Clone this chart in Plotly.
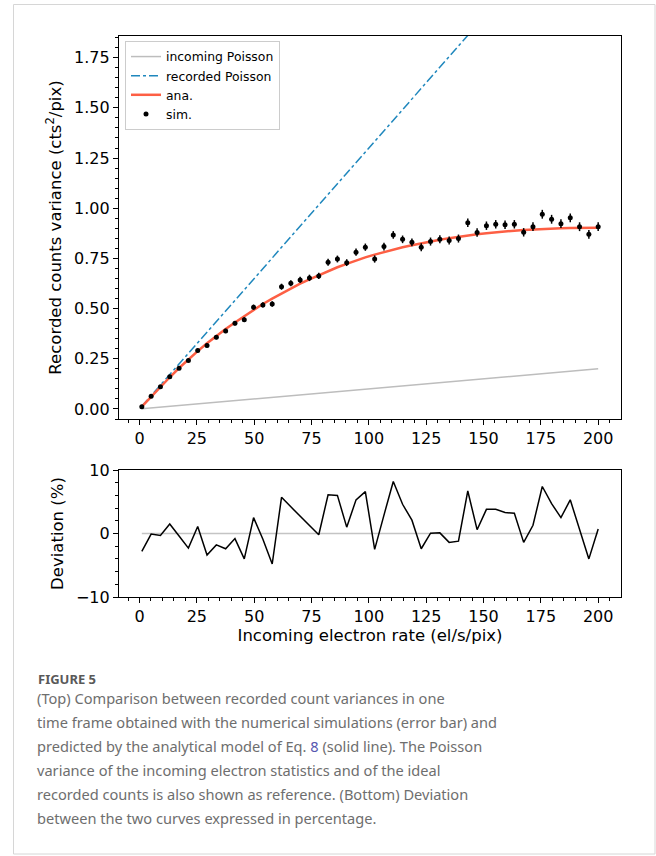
import plotly.graph_objects as go

# ---------------- data ----------------
rate = [1.0, 5.06, 9.12, 13.18, 17.24, 21.31, 25.37, 29.43, 33.49, 37.55,
        41.61, 45.67, 49.73, 53.8, 57.86, 61.92, 65.98, 70.04, 74.1, 78.16,
        82.22, 86.29, 90.35, 94.41, 98.47, 102.53, 106.59, 110.65, 114.71, 118.78,
        122.84, 126.9, 130.96, 135.02, 139.08, 143.14, 147.2, 151.27, 155.33, 159.39,
        163.45, 167.51, 171.57, 175.63, 179.69, 183.76, 187.82, 191.88, 195.94, 200.0]

sim_var = [0.011, 0.063, 0.111, 0.161, 0.203, 0.241, 0.291, 0.316, 0.357, 0.389,
           0.427, 0.445, 0.507, 0.518, 0.523, 0.609, 0.626, 0.643, 0.653, 0.663,
           0.731, 0.747, 0.729, 0.781, 0.806, 0.747, 0.809, 0.867, 0.845, 0.830,
           0.806, 0.834, 0.845, 0.839, 0.849, 0.928, 0.879, 0.913, 0.920, 0.918,
           0.920, 0.880, 0.908, 0.970, 0.945, 0.923, 0.952, 0.908, 0.870, 0.908]

sim_err = [0.002, 0.004, 0.005, 0.006, 0.007, 0.008, 0.009, 0.010, 0.010, 0.011,
           0.011, 0.012, 0.013, 0.013, 0.014, 0.015, 0.015, 0.016, 0.016, 0.016,
           0.017, 0.017, 0.017, 0.018, 0.018, 0.018, 0.019, 0.019, 0.019, 0.019,
           0.020, 0.020, 0.020, 0.020, 0.020, 0.021, 0.021, 0.021, 0.021, 0.021,
           0.021, 0.021, 0.022, 0.022, 0.022, 0.022, 0.022, 0.022, 0.022, 0.022]

ana_var = [0.012, 0.062, 0.111, 0.158, 0.204, 0.247, 0.288, 0.327, 0.364, 0.398,
           0.431, 0.463, 0.494, 0.523, 0.550, 0.576, 0.601, 0.624, 0.646, 0.667,
           0.687, 0.706, 0.723, 0.740, 0.755, 0.769, 0.782, 0.794, 0.806, 0.816,
           0.826, 0.835, 0.843, 0.851, 0.858, 0.864, 0.870, 0.875, 0.880, 0.884,
           0.888, 0.891, 0.894, 0.897, 0.899, 0.900, 0.902, 0.903, 0.903, 0.903]

deviation = [-2.8, -0.1, -0.3, 1.5, -0.4, -2.3, 1.1, -3.4, -1.8, -2.4,
             -0.8, -4.0, 2.5, -0.9, -4.8, 5.7, 4.2, 2.7, 1.2, -0.2,
             6.1, 6.0, 1.0, 5.3, 6.6, -2.5, 2.9, 8.2, 4.6, 2.1,
             -2.4, 0.05, 0.1, -1.4, -1.2, 6.7, 0.6, 3.8, 3.8, 3.3,
             3.2, -1.4, 1.3, 7.4, 4.7, 2.5, 5.3, 0.6, -4.0, 0.7]

line_x = [1.0, 200.0]
incoming_poisson = [0.001, 0.2]
recorded_poisson = [0.013, 2.6]
zero_line = [0.0, 0.0]

caption_title = "FIGURE 5"
caption_lines = [
    "(Top) Comparison between recorded count variances in one",
    "time frame obtained with the numerical simulations (error bar) and",
    'predicted by the analytical model of Eq. <span style="color:#5657b0">8</span> (solid line). The Poisson',
    "variance of the incoming electron statistics and of the ideal",
    "recorded counts is also shown as reference. (Bottom) Deviation",
    "between the two curves expressed in percentage.",
]

# ---------------- figure ----------------
W, H = 656, 856
def px(x):
    return x / W
def py(y):
    return 1 - y / H

FONT = "DejaVu Sans"
fig = go.Figure()

fig.add_trace(go.Scatter(x=line_x, y=incoming_poisson, mode="lines",
                         line=dict(color="#bdbdbd", width=1.5),
                         name="incoming Poisson", xaxis="x", yaxis="y"))
fig.add_trace(go.Scatter(x=line_x, y=recorded_poisson, mode="lines",
                         line=dict(color="#1f87bd", width=1.5, dash="dashdot"),
                         name="recorded Poisson", xaxis="x", yaxis="y"))
fig.add_trace(go.Scatter(x=rate, y=ana_var, mode="lines",
                         line=dict(color="#fd5f44", width=2.5),
                         name="ana.", xaxis="x", yaxis="y"))
fig.add_trace(go.Scatter(x=rate, y=sim_var, mode="markers",
                         marker=dict(color="black", size=5),
                         error_y=dict(type="data", array=sim_err, color="black",
                                      thickness=1.5, width=0),
                         name="sim.", xaxis="x", yaxis="y"))

fig.add_trace(go.Scatter(x=line_x, y=zero_line, mode="lines",
                         line=dict(color="#c4c4c4", width=1.5),
                         showlegend=False, xaxis="x2", yaxis="y2"))
fig.add_trace(go.Scatter(x=rate, y=deviation, mode="lines",
                         line=dict(color="black", width=1.5),
                         showlegend=False, xaxis="x2", yaxis="y2"))

xdom = [px(119), px(621)]
axis_common = dict(showline=True, linecolor="black", linewidth=1.2, mirror=True,
                   ticks="outside", ticklen=5, tickwidth=1.2, tickcolor="black",
                   showgrid=False, zeroline=False, automargin=False,
                   tickfont=dict(family=FONT, size=16, color="black"))
xr = [-8.95, 209.95]
minor_x = dict(dtick=5, ticklen=3, tickwidth=1, tickcolor="black", ticks="outside", showgrid=False)
TITLE_SIZE = 16.5

fig.update_layout(
    width=W, height=H, margin=dict(l=0, r=0, t=0, b=0, pad=0, autoexpand=False),
    paper_bgcolor="white", plot_bgcolor="white",
    font=dict(family=FONT, color="black"),
    xaxis=dict(domain=xdom, range=xr, anchor="y", tickmode="linear", tick0=0, dtick=25,
               minor=minor_x, **axis_common),
    yaxis=dict(domain=[py(419), py(36)], range=[-0.05, 1.858], anchor="x",
               tickmode="linear", tick0=0, dtick=0.25, tickformat=".2f",
               minor=dict(dtick=0.05, ticklen=3, tickwidth=1, tickcolor="black", ticks="outside", showgrid=False),
               title=dict(text="Recorded counts variance (cts<sup>2</sup>/pix)",
                          font=dict(family=FONT, size=TITLE_SIZE), standoff=8),
               **axis_common),
    xaxis2=dict(domain=xdom, range=xr, anchor="y2", tickmode="linear", tick0=0, dtick=25,
                minor=minor_x,
                title=dict(text="Incoming electron rate (el/s/pix)",
                           font=dict(family=FONT, size=TITLE_SIZE), standoff=4),
                **axis_common),
    yaxis2=dict(domain=[py(597), py(470)], range=[-10, 10], anchor="x2",
                tickmode="linear", tick0=-10, dtick=10,
                minor=dict(dtick=2, ticklen=3, tickwidth=1, tickcolor="black", ticks="outside", showgrid=False),
                title=dict(text="Deviation (%)", font=dict(family=FONT, size=TITLE_SIZE), standoff=8),
                **axis_common),
    legend=dict(x=px(125), y=py(41), xanchor="left", yanchor="top",
                bgcolor="rgba(255,255,255,0.85)", bordercolor="#cccccc", borderwidth=1,
                font=dict(family=FONT, size=12.4, color="black"),
                traceorder="normal", tracegroupgap=0, itemwidth=30),
    showlegend=True,
)

# card border
fig.add_shape(type="rect", xref="paper", yref="paper",
              x0=px(13.5), x1=px(655), y0=py(854), y1=py(4.5),
              line=dict(color="#d6d6d6", width=1), fillcolor="rgba(0,0,0,0)", layer="below")

CAP_FONT = "Noto Sans"
fig.add_annotation(text=caption_title, xref="paper", yref="paper",
                   x=px(36), y=py(679), xanchor="left", yanchor="middle", showarrow=False,
                   font=dict(family=CAP_FONT, size=13, color="#595959", weight="bold"))
for i, line in enumerate(caption_lines):
    fig.add_annotation(text=line, xref="paper", yref="paper",
                       x=px(35), y=py(698 + 24 * i), xanchor="left", yanchor="middle",
                       showarrow=False,
                       font=dict(family=CAP_FONT, size=14.6, color="#6e6e6e"))

fig.write_html("out.html",
               post_script="document.body.style.margin='0';")
